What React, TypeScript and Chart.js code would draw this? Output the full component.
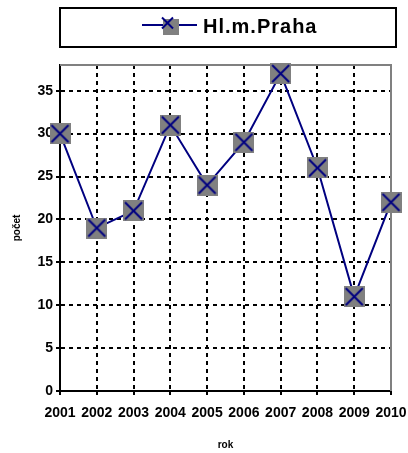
import React, { useEffect, useRef } from 'react';
import { Chart, registerables } from 'chart.js';

Chart.register(...registerables);

const years = ['2001', '2002', '2003', '2004', '2005', '2006', '2007', '2008', '2009', '2010'];
const counts = [30, 19, 21, 31, 24, 29, 37, 26, 11, 22];
const seriesName = 'Hl.m.Praha';
const xTitle = 'rok';
const yTitle = 'počet';
const yMin = 0;
const yMax = 38;
const yStep = 5;

const FONT = "'Liberation Sans', Arial, sans-serif";
const NAVY = '#000080';
const GRAY = '#808080';

function makeMarker(size: number, xSize: number) {
  const c = document.createElement('canvas');
  c.width = size;
  c.height = size;
  const ctx = c.getContext('2d')!;
  ctx.fillStyle = GRAY;
  ctx.fillRect(0, 0, size, size);
  ctx.strokeStyle = NAVY;
  ctx.lineWidth = 2;
  const m = (size - xSize) / 2;
  ctx.beginPath();
  ctx.moveTo(m, m);
  ctx.lineTo(size - m, size - m);
  ctx.moveTo(size - m, m);
  ctx.lineTo(m, size - m);
  ctx.stroke();
  return c;
}

export default function App() {
  const ref = useRef<HTMLCanvasElement>(null);

  useEffect(() => {
    if (!ref.current) return;
    const marker = makeMarker(21, 17);

    const framePlugin = {
      id: 'frame',
      beforeDatasetsDraw(chart: any) {
        const { ctx, chartArea } = chart;
        ctx.save();
        ctx.strokeStyle = GRAY;
        ctx.lineWidth = 2;
        ctx.beginPath();
        ctx.moveTo(chartArea.left, chartArea.top);
        ctx.lineTo(chartArea.right, chartArea.top);
        ctx.lineTo(chartArea.right, chartArea.bottom);
        ctx.stroke();
        ctx.restore();
      },
      afterDraw(chart: any) {
        const { ctx } = chart;
        ctx.save();
        // legend box
        ctx.strokeStyle = '#000';
        ctx.lineWidth = 2;
        ctx.strokeRect(60, 8, 336, 39);
        // legend sample: line, square, cross
        ctx.strokeStyle = NAVY;
        ctx.beginPath();
        ctx.moveTo(142, 25);
        ctx.lineTo(197, 25);
        ctx.stroke();
        ctx.fillStyle = GRAY;
        ctx.fillRect(163, 19, 16, 16);
        ctx.beginPath();
        ctx.moveTo(162, 17.5);
        ctx.lineTo(173, 28.5);
        ctx.moveTo(173, 17.5);
        ctx.lineTo(162, 28.5);
        ctx.stroke();
        // legend text
        ctx.fillStyle = '#000';
        ctx.font = `bold 20px ${FONT}`;
        (ctx as any).letterSpacing = '1px';
        ctx.textBaseline = 'alphabetic';
        ctx.textAlign = 'left';
        ctx.fillText(seriesName, 203, 32.5);
        ctx.restore();
      },
    };

    const chart = new Chart(ref.current, {
      type: 'line',
      data: {
        labels: years,
        datasets: [
          {
            label: seriesName,
            data: counts,
            borderColor: NAVY,
            borderWidth: 2,
            pointStyle: marker as any,
            pointRadius: 10,
            clip: false as any,
            tension: 0,
          },
        ],
      },
      options: {
        animation: false,
        responsive: false,
        devicePixelRatio: 1,
        layout: { padding: { top: 65, right: 17, left: 0, bottom: 0 } },
        plugins: { legend: { display: false }, tooltip: { enabled: false } },
        scales: {
          x: {
            offset: false,
            afterFit: (s: any) => {
              s.height = 62;
              s.paddingLeft = 0;
              s.paddingRight = 0;
            },
            grid: {
              color: '#000',
              lineWidth: 2,
              tickLength: 4,
              tickWidth: 2,
              tickBorderDash: [],
              tickColor: '#000',
            },
            border: { color: '#000', width: 2, dash: [4, 4] },
            ticks: {
              color: '#000',
              font: { family: FONT, size: 14, weight: 'bold' },
              padding: 10,
              maxRotation: 0,
              autoSkip: false,
            },
            title: {
              display: true,
              text: xTitle,
              color: '#000',
              font: { family: FONT, size: 10, weight: 'bold' },
              padding: { top: 0, bottom: 2 },
            },
          },
          y: {
            min: yMin,
            max: yMax,
            afterFit: (s: any) => {
              s.width = 60;
              s.paddingTop = 0;
              s.paddingBottom = 0;
            },
            grid: {
              color: '#000',
              lineWidth: 2,
              tickLength: 4,
              tickWidth: 2,
              tickBorderDash: [],
              tickColor: '#000',
            },
            border: { color: '#000', width: 2, dash: [4, 4] },
            ticks: {
              stepSize: yStep,
              includeBounds: false,
              color: '#000',
              font: { family: FONT, size: 14, weight: 'bold' },
              padding: 3,
            },
            title: {
              display: true,
              text: yTitle,
              color: '#000',
              font: { family: FONT, size: 10, weight: 'bold' },
              padding: { top: 11, bottom: 0 },
            },
          },
        },
      },
      plugins: [framePlugin],
    });
    return () => chart.destroy();
  }, []);

  return (
    <div style={{ position: 'fixed', left: 0, top: 0, width: 408, height: 453, background: '#fff' }}>
      <canvas ref={ref} width={408} height={453} />
    </div>
  );
}
